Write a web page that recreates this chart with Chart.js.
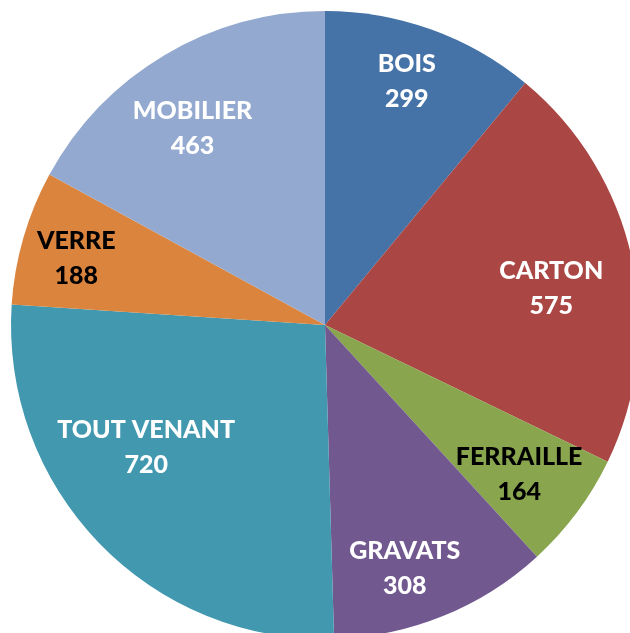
<!DOCTYPE html>
<html>
<head>
<meta charset="utf-8">
<script src="https://cdn.jsdelivr.net/npm/chart.js@4/dist/chart.umd.min.js"></script>
<style>
	html, body { margin: 0; padding: 0; background: #fff; overflow: hidden; }
	#wrap { position: absolute; left: 0; top: 0; width: 650px; height: 650px; }
</style>
</head>
<body>
<div id="wrap"><canvas id="pie" width="650" height="650"></canvas></div>
<script>
var categories = ['BOIS', 'CARTON', 'FERRAILLE', 'GRAVATS', 'TOUT VENANT', 'VERRE', 'MOBILIER'];
var values = [299, 575, 164, 308, 720, 188, 463];

var colors = ['#4572A7', '#AA4643', '#89A54E', '#71588F', '#4198AF', '#DB843D', '#93A9CF'];
var textColors = ['#fff', '#fff', '#000', '#fff', '#fff', '#000', '#fff'];
// label placement: fraction of radius, angle nudge in degrees
var labelR = [0.82, 0.73, 0.78, 0.815, 0.69, 0.82, 0.755];
var labelNudge = [-1.3, 3, 0.9, 3.9, 9.6, -1.2, -3.3];

var pieLabels = {
	id: 'pieLabels',
	afterDatasetsDraw: function(chart) {
		var ctx = chart.ctx;
		var arcs = chart.getDatasetMeta(0).data;
		ctx.save();
		ctx.font = '900 25px Lato';
		ctx.textAlign = 'center';
		ctx.textBaseline = 'middle';
		arcs.forEach(function(arc, i) {
			var mid = (arc.startAngle + arc.endAngle) / 2 + labelNudge[i] * Math.PI / 180;
			var r = arc.outerRadius * labelR[i];
			var x = arc.x + Math.cos(mid) * r;
			var y = arc.y + Math.sin(mid) * r;
			ctx.fillStyle = textColors[i];
			ctx.fillText(categories[i], x, y - 17);
			ctx.fillText(String(values[i]), x, y + 18);
		});
		ctx.restore();
	}
};

new Chart(document.getElementById('pie').getContext('2d'), {
	type: 'pie',
	data: {
		labels: categories,
		datasets: [{
			data: values,
			backgroundColor: colors,
			borderWidth: 0
		}]
	},
	options: {
		responsive: false,
		animation: false,
		layout: { padding: 11 },
		plugins: {
			legend: { display: false },
			tooltip: { enabled: false }
		}
	},
	plugins: [pieLabels]
});
</script>
</body>
</html>
